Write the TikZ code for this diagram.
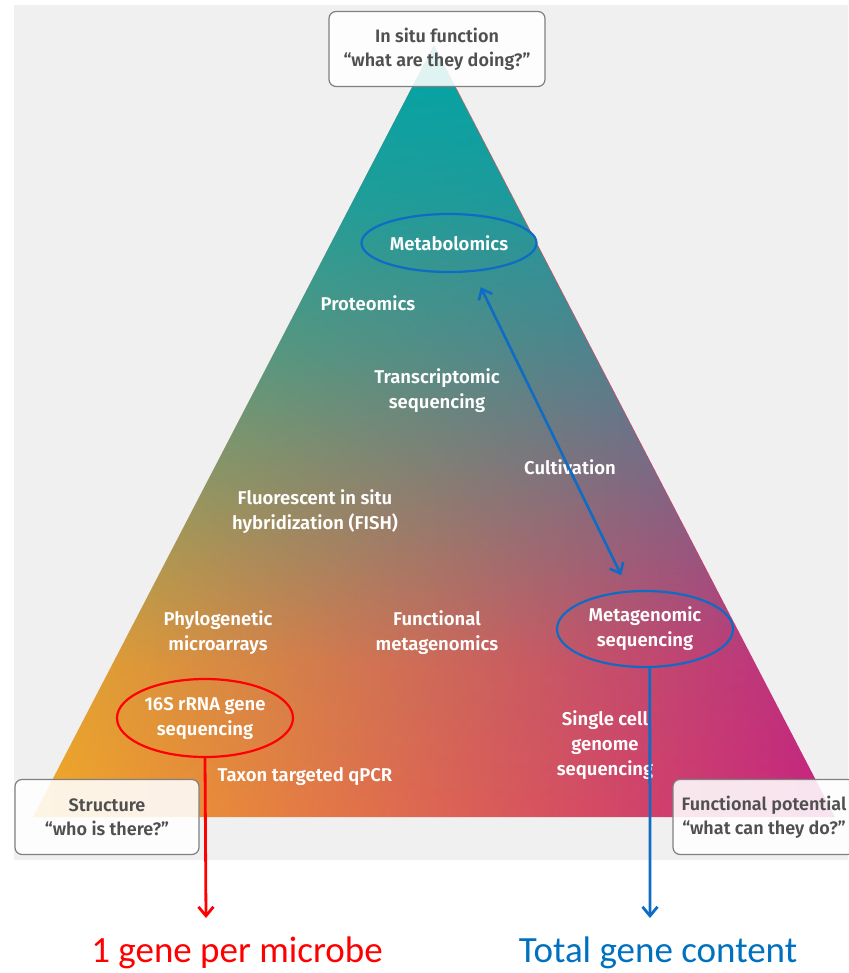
\documentclass[tikz,border=0pt]{standalone}
\usepackage{fontspec}
\setmainfont{Fira Sans}[BoldFont={Fira Sans SemiBold}]
\newfontfamily\capfont{Carlito}
\usetikzlibrary{shapes.geometric,arrows.meta,fadings}
\definecolor{bggray}{RGB}{240,240,240}
\definecolor{pyrteal}{RGB}{0,165,166}
\definecolor{pyrorange}{RGB}{243,168,38}
\definecolor{pyrsalmon}{RGB}{222,112,98}
\definecolor{pyrmagenta}{RGB}{200,34,128}
\definecolor{ringblue}{RGB}{14,108,196}
\definecolor{capblue}{RGB}{0,112,192}
\definecolor{boxgray}{RGB}{128,128,128}
\definecolor{boxtext}{RGB}{80,80,80}
% teal wash, strong at the apex, gone at the base (path maps to 25bp..75bp)
\pgfdeclareverticalshading{tealwash}{100bp}{color(0bp)=(pgftransparent!100); color(25bp)=(pgftransparent!100);
  color(35bp)=(pgftransparent!93); color(45bp)=(pgftransparent!66); color(55bp)=(pgftransparent!38);
  color(65bp)=(pgftransparent!14); color(75bp)=(pgftransparent!0); color(100bp)=(pgftransparent!0)}
\tikzfading[name=tealfade, shading=tealwash]
\tikzset{
  lbl/.style={text=white, font=\fontsize{18.5}{25}\selectfont\bfseries, align=center, inner sep=0pt},
  ring/.style={ellipse, draw=#1, line width=2.2pt, lbl},
  qbox/.style={draw=boxgray, line width=1.2pt, rounded corners=7pt, fill=white, fill opacity=.88, text opacity=1,
    text=boxtext, font=\fontsize{18}{24}\selectfont\bfseries, align=center, minimum height=75pt},
  captxt/.style={font=\capfont\fontsize{37}{40}\selectfont, inner sep=0pt},
  vtip/.tip={Straight Barb[length=9pt,width=15pt]},
}
\begin{document}
\begin{tikzpicture}[x=1pt, y=-1pt, line join=round, line cap=round]
  \useasboundingbox (0,0) rectangle (848,973);
  %\draw[gray!20] (0,0) grid[step=50] (848,973);
  \fill[bggray] (14,5) rectangle (848,860);
  % pyramid
  \coordinate (apex) at (434,45);
  \coordinate (bl) at (33,817);
  \coordinate (br) at (835,817);
  \shade[left color=pyrorange, middle color=pyrsalmon, right color=pyrmagenta] (apex) -- (br) -- (bl) -- cycle;
  \fill[pyrteal, path fading=tealfade] (apex) -- (br) -- (bl) -- cycle;
  \foreach \x/\y/\n/\t in {368/303/prot/Proteomics, 437/391/trans/{Transcriptomic\\sequencing},
      570/467/cult/Cultivation, 315/512/fish/{Fluorescent in situ\\hybridization (FISH)},
      218/633/phylo/{Phylogenetic\\microarrays}, 437/633/funcmeta/{Functional\\metagenomics},
      605/745/single/{Single cell\\genome\\sequencing}, 305/777/qpcr/{Taxon targeted qPCR}}
    \node[lbl] (\n) at (\x,\y) {\t};
  % circled methods
  \node[ring=ringblue, minimum width=175pt, minimum height=58pt] (metab) at (449,243) {Metabolomics};
  \node[ring=ringblue, minimum width=176pt, minimum height=76pt] (metag) at (645,629) {Metagenomic\\sequencing};
  \node[ring=red, minimum width=176pt, minimum height=78pt] (rrna) at (205,718) {16S rRNA gene\\sequencing};
  % corner boxes
  \node[qbox, minimum width=216pt] (insitu) at (437,49) {In situ function\\“what are they doing?”};
  \node[qbox, minimum width=184pt] (struct) at (107,817) {Structure\\“who is there?”};
  \node[qbox, minimum width=182pt] (funcpot) at (764,817) {Functional potential\\“what can they do?”};
  % arrows
  \coordinate (redend) at (206,918);
  \coordinate (blueend) at (650,918);
  \draw[ringblue, line width=2.6pt, vtip-vtip, shorten <=17pt, shorten >=17pt] (metab.-50) -- (metag.113);
  \draw[red, line width=2.8pt, -vtip] (rrna.south) -- (redend);
  \draw[ringblue, line width=2.8pt, -vtip] (metag.-83) -- (blueend);
  \node[captxt, text=red] (onegene) at (237,953) {1 gene per microbe};
  \node[captxt, text=capblue] (totgene) at (658,953) {Total gene content};
\end{tikzpicture}
\end{document}
